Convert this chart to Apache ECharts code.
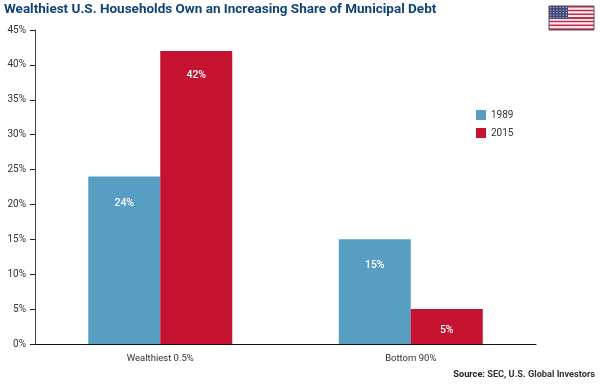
<!DOCTYPE html>
<html>
<head>
<meta charset="utf-8">
<style>
html, body { margin: 0; padding: 0; background: #fff; }
#chart { width: 600px; height: 385px; }
</style>
<script src="https://cdn.jsdelivr.net/npm/echarts@6/dist/echarts.min.js"></script>
</head>
<body>
<div id="chart"></div>
<script>
const categories = ['Wealthiest 0.5%', 'Bottom 90%'];
const values1989 = [24, 15];
const values2015 = [42, 5];

const labelFont = 'Roboto, sans-serif';

// small US flag, top right corner
const flagStripes = () => {
    const stripes = [];
    const h = 24 / 13;
    for (let i = 0; i < 13; i++) {
        stripes.push({
            type: 'rect',
            shape: { x: 549, y: 6 + i * h, width: 45, height: h },
            style: { fill: i % 2 === 0 ? '#b5324f' : '#fbe6ea' },
            silent: true
        });
    }
    stripes.push({
        type: 'rect',
        shape: { x: 549, y: 6, width: 19, height: 13 },
        style: { fill: '#3f4577' },
        silent: true
    });
    for (let r = 0; r < 5; r++) {
        for (let c = 0; c < 6; c++) {
            stripes.push({
                type: 'circle',
                shape: { cx: 550.8 + c * 3.1, cy: 7.6 + r * 2.5, r: 0.7 },
                style: { fill: '#d5d8e8' },
                silent: true
            });
        }
    }
    stripes.push({
        type: 'rect',
        shape: { x: 549, y: 6, width: 45, height: 24 },
        style: { fill: 'none', stroke: '#5c4a55', lineWidth: 1 },
        silent: true
    });
    return stripes;
};

const barLabel = (distance) => ({
    show: true,
    position: 'insideTop',
    distance: distance,
    color: '#fff',
    fontFamily: labelFont,
    fontSize: 10.5,
    fontWeight: 500,
    formatter: '{c}%'
});

const chart = echarts.init(document.getElementById('chart'), null, { renderer: 'canvas' });
chart.setOption({
    animation: false,
    backgroundColor: '#fff',
    title: [
        {
            text: 'Wealthiest U.S. Households Own an Increasing Share of Municipal Debt',
            left: 4,
            top: 3,
            padding: 0,
            textStyle: { color: '#0f4474', fontFamily: 'Roboto, sans-serif', fontSize: 13.5, fontWeight: 'bold' }
        },
        {
            text: '{b|Source:} SEC, U.S. Global Investors',
            right: 5,
            top: 370,
            padding: 0,
            textStyle: {
                color: '#333',
                fontFamily: labelFont,
                fontSize: 9.2,
                rich: {
                    b: { fontFamily: labelFont, fontSize: 9.2, fontWeight: 'bold', color: '#222' }
                }
            }
        }
    ],
    legend: {
        orient: 'vertical',
        left: 476,
        top: 110,
        padding: 0,
        itemWidth: 10,
        itemHeight: 10,
        itemGap: 8,
        icon: 'rect',
        textStyle: { color: '#333', fontFamily: labelFont, fontSize: 10, padding: [0, 0, 0, 0] },
        data: ['1989', '2015']
    },
    grid: { left: 35, right: 64, top: 30, bottom: 41 },
    xAxis: {
        type: 'category',
        data: categories,
        axisLine: { lineStyle: { color: '#111', width: 1 } },
        axisTick: { show: false },
        axisLabel: { color: '#333', fontFamily: labelFont, fontSize: 9.5, margin: 10 }
    },
    yAxis: {
        type: 'value',
        min: 0,
        max: 45,
        interval: 5,
        splitLine: { show: false },
        axisLine: { show: true, lineStyle: { color: '#444', width: 1 } },
        axisTick: { show: true, length: 5, lineStyle: { color: '#222' } },
        axisLabel: { color: '#333', fontFamily: labelFont, fontSize: 10, margin: 9, formatter: '{value}%' }
    },
    series: [
        {
            name: '1989',
            type: 'bar',
            data: values1989,
            barWidth: 72,
            barGap: 0,
            itemStyle: { color: '#589dc2' },
            label: barLabel(21)
        },
        {
            name: '2015',
            type: 'bar',
            // the 5% bar is short, its label sits closer to the top
            data: values2015.map((v) => (v < 10 ? { value: v, label: { distance: 16 } } : v)),
            barWidth: 72,
            itemStyle: { color: '#c41230' },
            label: barLabel(19)
        }
    ],
    graphic: flagStripes()
});
</script>
</body>
</html>
